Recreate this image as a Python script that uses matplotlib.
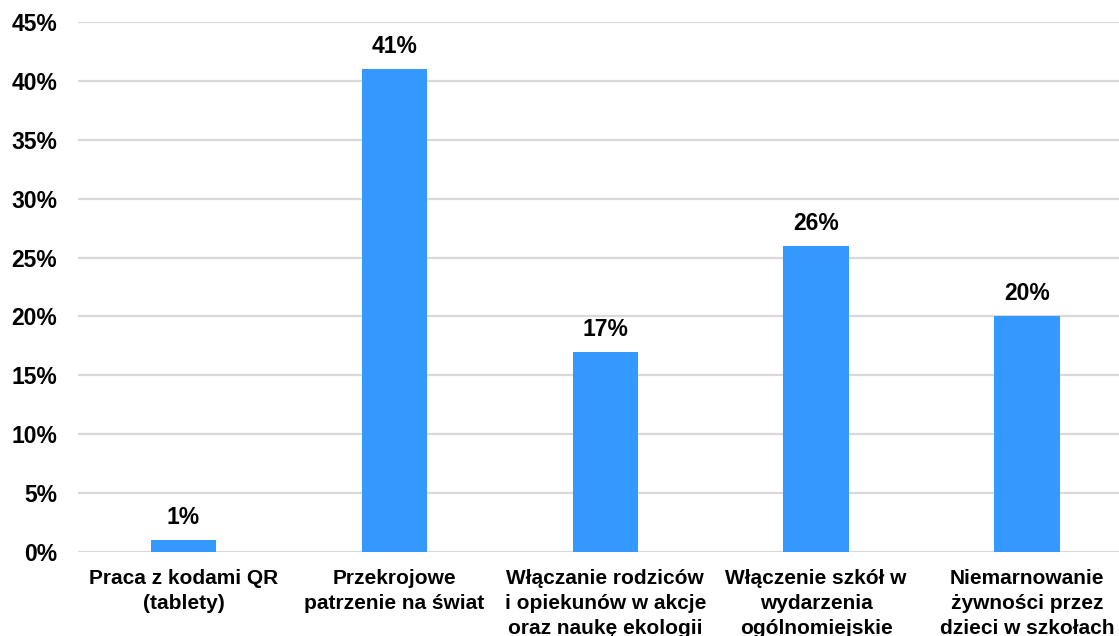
import numpy as np
import matplotlib.pyplot as plt

plt.rcParams['font.family'] = ['Liberation Sans', 'DejaVu Sans']
plt.rcParams['font.weight'] = 'bold'

categories = [
    "Praca z kodami QR\n(tablety)",
    "Przekrojowe\npatrzenie na świat",
    "Włączanie rodziców\ni opiekunów w akcje\noraz naukę ekologii",
    "Włączenie szkół w\nwydarzenia\nogólnomiejskie",
    "Niemarnowanie\nżywności przez\ndzieci w szkołach",
]
values = [1, 41, 17, 26, 20]
yticks = [0, 5, 10, 15, 20, 25, 30, 35, 40, 45]

fig = plt.figure(figsize=(11.19, 6.36), dpi=100)
ax = fig.add_axes([78 / 1119, 84 / 636, 1041 / 1119, 530 / 636])

x = np.arange(len(categories))
ax.bar(x, values, width=0.31, color="#3399ff", zorder=3)

for xi, v in zip(x, values):
    ax.annotate(f"{v}%", (xi, v), xytext=(0, 11.5), textcoords="offset points",
                ha="center", va="baseline", fontsize=16.5, fontweight="bold")

ax.set_xlim(-0.5, 4.436)
ax.set_ylim(0, 45)
ax.set_yticks(yticks)
ax.set_yticklabels([f"{t}%" for t in yticks], fontsize=16.5, fontweight="bold")
ax.set_xticks(x)
ax.set_xticklabels(categories, fontsize=15, fontweight="bold", linespacing=1.4)
ax.tick_params(axis="both", length=0)
ax.tick_params(axis="y", pad=15)
ax.tick_params(axis="x", pad=12)
ax.grid(axis="y", color="#d9d9d9", linewidth=1.6, zorder=0)
for s in ax.spines.values():
    s.set_visible(False)

fig.savefig("out.png", dpi=100)
